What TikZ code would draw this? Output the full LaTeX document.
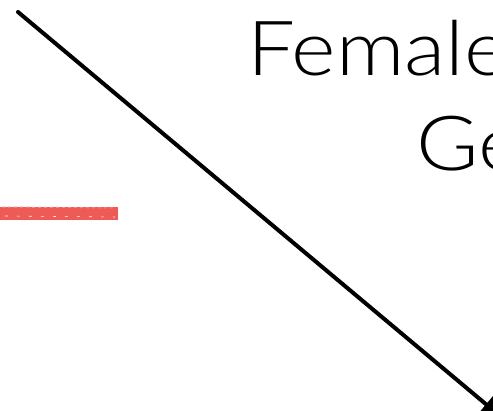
\documentclass[tikz,border=0pt]{standalone}
\usepackage{fontspec}
\setmainfont{Lato Light}
\usetikzlibrary{arrows.meta}
\definecolor{redstroke}{HTML}{EE5A55}
\tikzset{
  lbl/.style={anchor=base west, inner sep=0pt, font=\fontsize{76}{80}\selectfont},
  arrowline/.style={line width=4pt, line cap=round, -{Triangle[length=26pt,width=24pt]}},
  redmark/.style={draw=redstroke, line width=13pt}
}
\begin{document}
\begin{tikzpicture}[x=1pt,y=-1pt]
\useasboundingbox (0,0) rectangle (493,410);
\clip (0,0) rectangle (493,410);
\node[lbl] (female) at (247,75) {\scalebox{1.12}[1]{Female}};
\node[lbl] (ge) at (416,170) {\scalebox{1.12}[1]{Ge}};
\coordinate (a) at (18,12);
\coordinate (b) at (506,421);
\draw[arrowline] (a) -- (b);
\coordinate (r1) at (-5,213);
\coordinate (r2) at (118,213);
\draw[redmark] (r1) -- (r2);
\draw[redstroke!70!white, line width=1pt, dashed] (2,207) -- (116,208);
\draw[white, line width=0.6pt, dash pattern=on 3pt off 9pt] (5,216) -- (115,217);
\end{tikzpicture}
\end{document}
